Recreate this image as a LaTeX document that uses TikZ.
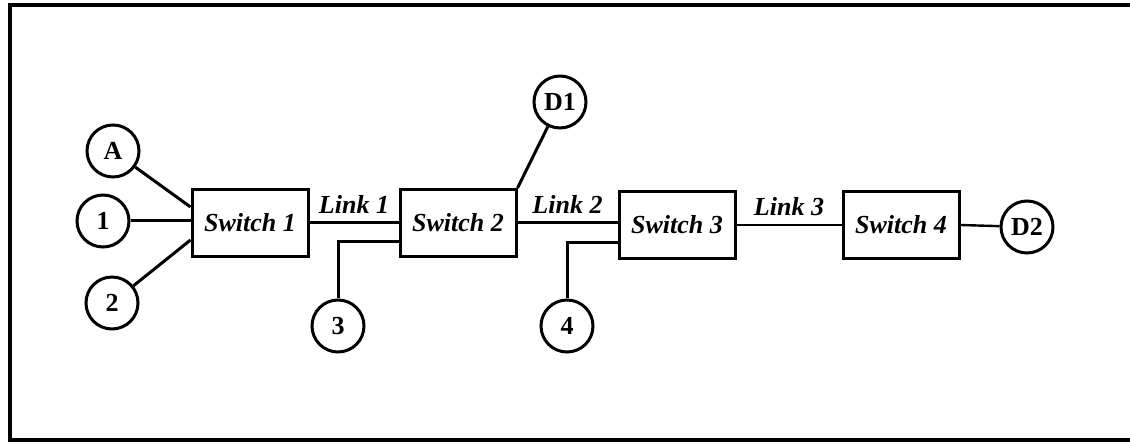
\documentclass[tikz,border=0pt]{standalone}
\usepackage{fontspec}
\setmainfont{Liberation Serif}
\usepackage{tikz}
\usetikzlibrary{arrows}

\begin{document}
\begin{tikzpicture}[x=0.5pt,y=-0.5pt,line width=1.5pt,
                    font=\fontsize{13}{15}\selectfont\bfseries,
                    host node/.style={circle,draw,minimum size=26pt,inner sep=0pt},
                    switch node/.style={rectangle,draw,minimum width=58pt,
                                        minimum height=33.5pt,inner sep=0pt,
                                        font=\fontsize{13}{15}\selectfont\bfseries\itshape},
                    link label/.style={above=2.5pt,inner sep=1.5pt,
                                       font=\fontsize{13}{15}\selectfont\bfseries\itshape}]
  \useasboundingbox (0,0) rectangle (1130,442);
  \draw [line width=2pt] (1131,5) -- (10,5) -- (10,440) -- (1131,440);
%  switches along the path
  \node[switch node] (s1) at (250,223) {Switch 1};
  \node[switch node] (s2) at (458,223) {Switch 2};
  \node[switch node] (s3) at (677,225) {Switch 3};
  \node[switch node] (s4) at (901,225) {Switch 4};
%  sources and destinations
  \node[host node] (a) at (113,151) {A};
  \node[host node] (n1) at (103,221) {1};
  \node[host node] (n2) at (112,303) {2};
  \node[host node] (n3) at (338,326) {3};
  \node[host node] (n4) at (567,326) {4};
  \node[host node] (d1) at (560,102) {D1};
  \node[host node] (d2) at (1027,227) {D2};
  \draw (a) -- ([yshift=8pt]s1.west);
  \draw (n1) -- (n1 -| s1.west);
  \draw (n2) -- ([yshift=-8.5pt]s1.west);
  \draw (s1.east) -- node[link label] {Link 1} (s1.east -| s2.west);
  \draw (n3) |- ([yshift=-9.5pt]s2.west);
  \draw (d1) -- (s2.north east);
  \draw (s2.east) -- node[link label] {Link 2} (s2.east -| s3.west);
  \draw (n4) |- ([yshift=-9pt]s3.west);
  \draw [line width=1.2pt] (s3.east) -- node[link label] {Link 3} (s4.west);
  \draw [line width=1.2pt] (s4.east) -- (d2);
\end{tikzpicture}
\end{document}
